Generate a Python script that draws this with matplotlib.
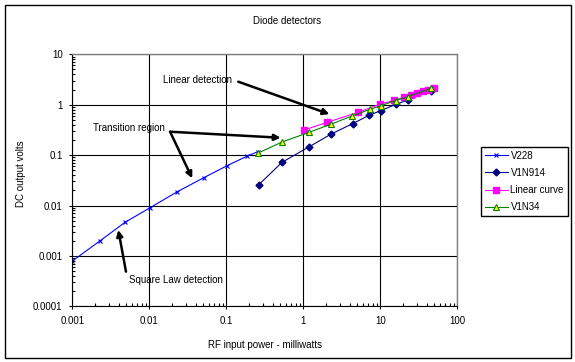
import matplotlib
matplotlib.use("Agg")
import matplotlib.pyplot as plt
from matplotlib.patches import Rectangle

plt.rcParams['font.family'] = ['Liberation Sans', 'DejaVu Sans']
plt.rcParams['font.size'] = 7

# RF input power (mW) / DC output (V)
v228_p = [0.001, 0.0023, 0.0048, 0.0102, 0.0227, 0.051, 0.101, 0.188, 0.257]
v228_v = [0.00079, 0.002, 0.0046, 0.009, 0.0185, 0.0356, 0.061, 0.096, 0.117]

v1n914_p = [0.264, 0.53, 1.19, 2.3, 4.36, 7.2, 10.1, 16, 22.9, 45]
v1n914_v = [0.0259, 0.072, 0.146, 0.262, 0.42, 0.62, 0.76, 1.02, 1.24, 1.91]

linear_p = [1.03, 2.06, 5.18, 10, 15.2, 20.3, 25, 30.3, 35.9, 42, 49.8]
linear_v = [0.315, 0.45, 0.706, 1.03, 1.22, 1.40, 1.59, 1.68, 1.90, 1.99, 2.19]

v1n34_p = [0.256, 0.53, 1.17, 2.29, 4.33, 7.35, 10.1, 15.8, 22.9, 45]
v1n34_v = [0.109, 0.182, 0.281, 0.41, 0.60, 0.81, 0.95, 1.21, 1.44, 2.1]

W, H = 575, 362
fig = plt.figure(figsize=(W / 100, H / 100), dpi=100)
ax = fig.add_axes([72.3 / W, 1 - 306.3 / H, 385 / W, 252 / H])

ax.plot(v228_p, v228_v, color='#0000FF', lw=0.8, marker='x', ms=3.5, mew=0.8, label='V228')
ax.plot(v1n914_p, v1n914_v, color='#000080', lw=0.8, marker='D', ms=3.5, label='V1N914')
ax.plot(linear_p, linear_v, color='#FF00FF', lw=0.8, marker='s', ms=5, label='Linear curve')
ax.plot(v1n34_p, v1n34_v, color='#008000', lw=0.8, marker='^', ms=5, mfc='#FFFF00',
        mec='#008000', mew=0.8, label='V1N34')

ax.set_xscale('log')
ax.set_yscale('log')
ax.set_xlim(0.001, 100)
ax.set_ylim(0.0001, 10)
ax.set_xticks([0.001, 0.01, 0.1, 1, 10, 100])
ax.set_xticklabels(['0.001', '0.01', '0.1', '1', '10', '100'])
ax.set_yticks([0.0001, 0.001, 0.01, 0.1, 1, 10])
ax.set_yticklabels(['0.0001', '0.001', '0.01', '0.1', '1', '10'])
ax.tick_params(which='major', direction='out', length=2.5, width=0.8, pad=4.5)
ax.tick_params(which='minor', direction='in', length=2, width=0.8)
ax.grid(True, which='major', color='black', lw=0.8)
ax.set_axisbelow(True)
for s in ['top', 'right']:
    ax.spines[s].set_color('#808080')
    ax.spines[s].set_linewidth(1)
for s in ['left', 'bottom']:
    ax.spines[s].set_linewidth(0.8)

ax.set_xlabel('RF input power - milliwatts', labelpad=10)
ax.set_ylabel('DC output volts')
ax.yaxis.set_label_coords(-0.12, 0.525)
fig.text(287 / W, 1 - 21 / H, 'Diode detectors', ha='center', va='center')

# annotations
arrow = dict(arrowstyle='-|>', lw=1.8, color='black', mutation_scale=9, shrinkA=0, shrinkB=0)
ax.text(0.0149, 3.09, 'Linear detection', ha='left', va='center')
ax.annotate('', xy=(2.18, 0.65), xytext=(0.143, 2.86), arrowprops=arrow)
ax.text(0.00184, 0.34, 'Transition region', ha='left', va='center')
ax.annotate('', xy=(0.508, 0.221), xytext=(0.0186, 0.291), arrowprops=arrow)
ax.annotate('', xy=(0.0361, 0.0347), xytext=(0.0186, 0.291), arrowprops=arrow)
ax.text(0.0055, 0.000333, 'Square Law detection', ha='left', va='center')
ax.annotate('', xy=(0.00396, 0.00327), xytext=(0.00498, 0.000487), arrowprops=arrow)

leg = fig.legend(loc='upper left', bbox_to_anchor=(481.3 / W, 1 - 146.7 / H),
                 frameon=True, fancybox=False, edgecolor='black', framealpha=1,
                 handlelength=2.3, handletextpad=0.3, labelspacing=0.75,
                 borderpad=0.4, borderaxespad=0)
leg.get_frame().set_linewidth(1)

fig.patches.append(Rectangle((5 / W, 1 - 358 / H), 566 / W, 353 / H, transform=fig.transFigure,
                             fill=False, edgecolor='black', lw=1))

fig.savefig('out.png', dpi=100)
